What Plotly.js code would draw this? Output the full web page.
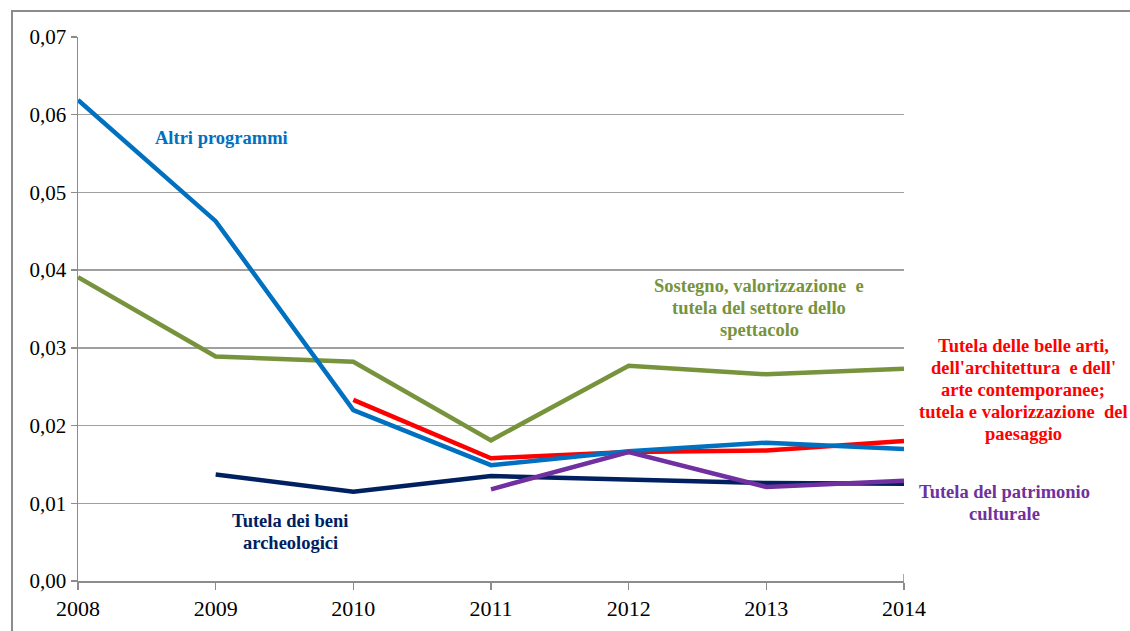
<!DOCTYPE html>
<html>
<head>
<meta charset="utf-8">
<script src="https://cdn.plot.ly/plotly-3.0.1.min.js"></script>
<style>
body{margin:0;padding:0;background:#fff;}
#wrap{position:relative;width:1130px;height:631px;overflow:hidden;}
#frame{position:absolute;left:11px;top:10px;width:1200px;height:700px;border-left:2px solid #8c8c8c;border-top:2px solid #8c8c8c;pointer-events:none;}
#chart{position:absolute;left:0;top:0;width:1130px;height:631px;}
</style>
</head>
<body>
<div id="wrap">
<div id="chart"></div>
<div id="frame"></div>
</div>
<script>
// ================= DATA =================
let years = [2008, 2009, 2010, 2011, 2012, 2013, 2014];

let altri = [0.0619, 0.0463, 0.0220, 0.0149, 0.0167, 0.0178, 0.0170];
let sostegno = [0.0391, 0.0289, 0.0282, 0.0181, 0.0277, 0.0266, 0.0273];
let belleArti = [null, null, 0.0233, 0.0158, 0.0166, 0.0168, 0.0180];
let archeologici = [null, 0.0137, 0.0115, 0.0135, 0.0131, 0.0126, 0.0125];
let patrimonio = [null, null, null, 0.0118, 0.0166, 0.0121, 0.0129];

let yTicks = [0, 0.01, 0.02, 0.03, 0.04, 0.05, 0.06, 0.07];
let yTickText = ["0,00", "0,01", "0,02", "0,03", "0,04", "0,05", "0,06", "0,07"];

let serif = "Liberation Serif";

// ================= TRACES =================
function line(y, color){
return {
x: years,
y: y,
type: "scatter",
mode: "lines",
line: {color: color, width: 4.5},
connectgaps: false,
hoverinfo: "skip"
};
}

let traces = [
line(sostegno, "#77933C"),
line(archeologici, "#002060"),
line(belleArti, "#FF0000"),
line(altri, "#0070C0"),
line(patrimonio, "#7030A0")
];

// ================= LABELS =================
// paper coords: plot spans x 78..904, y 37..581
function px(x){ return (x - 78) / 826; }
function py(y){ return (581 - y) / 544; }

// one annotation per line, 22px apart (tighter than plotly's <br>)
function label(lines, x, yFirst, color){
return lines.map((t, i) => ({
text: "<b>" + t + "</b>",
x: px(x), y: py(yFirst + i * 22),
xref: "paper", yref: "paper",
xanchor: "center", yanchor: "middle",
showarrow: false,
font: {family: serif, size: 18.5, color: color}
}));
}

let annotations = [].concat(
label(["Altri programmi"], 221, 138, "#0070C0"),
label(["Sostegno, valorizzazione  e", "tutela del settore dello", "spettacolo"], 759, 286, "#77933C"),
label(["Tutela delle belle arti,", "dell'architettura  e dell'", "arte contemporanee;", "tutela e valorizzazione  del", "paesaggio"], 1023, 346, "#FF0000"),
label(["Tutela del patrimonio", "culturale"], 1004, 492, "#7030A0"),
label(["Tutela dei beni", "archeologici"], 290, 521, "#002060")
);

let axisGray = "#8c8c8c";

let layout = {
width: 1130,
height: 631,
margin: {l: 78, r: 226, t: 37, b: 50},
paper_bgcolor: "rgba(0,0,0,0)",
plot_bgcolor: "rgba(0,0,0,0)",
showlegend: false,
xaxis: {
range: [2008, 2014],
tickvals: years,
ticktext: years.map(String),
ticks: "outside",
ticklen: 7,
tickwidth: 1.5,
tickcolor: axisGray,
showline: true,
linecolor: axisGray,
linewidth: 1.5,
showgrid: false,
zeroline: false,
tickfont: {family: serif, size: 22, color: "#000"}
},
yaxis: {
range: [0, 0.07],
tickvals: yTicks,
ticktext: yTickText,
ticks: "outside",
ticklen: 6,
tickwidth: 1.5,
tickcolor: axisGray,
showline: true,
linecolor: axisGray,
linewidth: 1.5,
showgrid: true,
gridcolor: "#a0a0a0",
gridwidth: 1.5,
zeroline: false,
tickfont: {family: serif, size: 21, color: "#000"}
},
annotations: annotations,
shapes: [
// tick at the right end of the x axis
{type: "line", xref: "x", yref: "paper", x0: 2014, x1: 2014, y0: py(574), y1: py(588), line: {color: axisGray, width: 1.5}}
]
};

Plotly.newPlot("chart", traces, layout, {displayModeBar: false, staticPlot: true});
</script>
</body>
</html>
